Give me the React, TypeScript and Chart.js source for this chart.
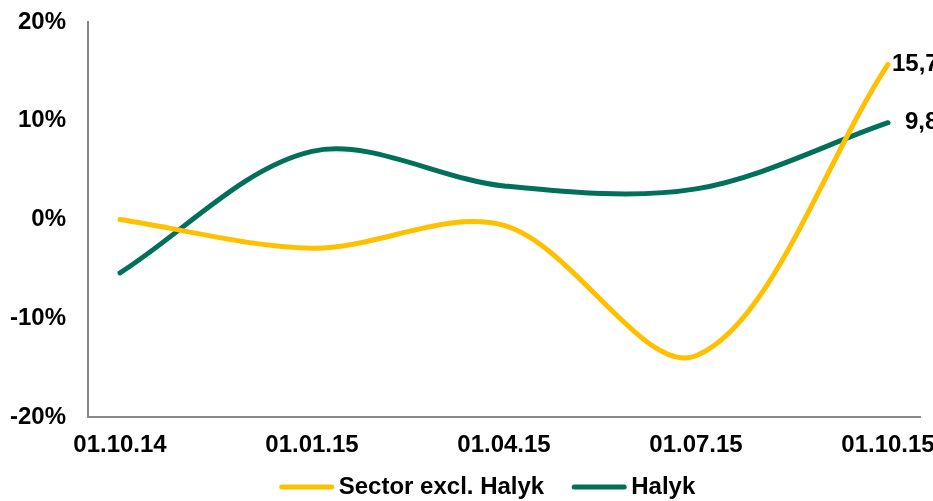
import React, { useEffect, useRef } from "react";
import { Chart, registerables } from "chart.js";

Chart.register(...registerables);

const tickLabels = ["01.10.14", "01.01.15", "01.04.15", "01.07.15", "01.10.15"];
const monthIndex = [0, 3, 6, 9, 12];
const sectorValues = [0.0, -2.9, -0.6, -13.8, 15.7];
const halykValues = [-5.4, 6.9, 3.4, 3.1, 9.8];

const FONT = "'Liberation Sans', Arial, sans-serif";
const FS = 24;

const endLabels = {
  id: "endLabels",
  afterDatasetsDraw(chart: any, _args: any, opts: any) {
    const ctx = chart.ctx;
    ctx.save();
    ctx.font = `bold ${FS}px ${FONT}`;
    ctx.fillStyle = "#000";
    ctx.textAlign = "left";
    ctx.textBaseline = "middle";
    chart.data.datasets.forEach((ds: any, i: number) => {
      const meta = chart.getDatasetMeta(i);
      const last = meta.data[meta.data.length - 1];
      const v = ds.data[ds.data.length - 1].y;
      const txt = v.toFixed(1).replace(".", ",");
      ctx.fillText(txt, last.x + opts.offsets[i], last.y);
    });
    ctx.restore();
  },
};

const customLegend = {
  id: "customLegend",
  afterDraw(chart: any, _args: any, opts: any) {
    const ctx = chart.ctx;
    ctx.save();
    ctx.font = `bold ${FS}px ${FONT}`;
    ctx.textBaseline = "middle";
    ctx.textAlign = "left";
    const items = chart.data.datasets.map((ds: any) => ({
      label: ds.label,
      color: ds.borderColor,
      w: ctx.measureText(ds.label).width,
    }));
    const total =
      items.reduce((s: number, it: any) => s + opts.lineW + opts.gap + it.w, 0) +
      opts.spacing * (items.length - 1);
    let x = chart.width / 2 + opts.shift - total / 2;
    const y = chart.height - opts.bottom;
    items.forEach((it: any) => {
      ctx.strokeStyle = it.color;
      ctx.lineWidth = 5;
      ctx.lineCap = "round";
      ctx.beginPath();
      ctx.moveTo(x + 2, y);
      ctx.lineTo(x + opts.lineW - 2, y);
      ctx.stroke();
      x += opts.lineW + opts.gap;
      ctx.fillStyle = "#000";
      ctx.fillText(it.label, x, y);
      x += it.w + opts.spacing;
    });
    ctx.restore();
  },
};

export default function App() {
  const ref = useRef<HTMLCanvasElement | null>(null);
  useEffect(() => {
    if (!ref.current) return;
    const chart = new Chart(ref.current, {
      type: "line",
      data: {
        datasets: [
          {
            label: "Sector excl. Halyk",
            data: monthIndex.map((x, i) => ({ x, y: sectorValues[i] })),
            borderColor: "#FFC000",
            backgroundColor: "#FFC000",
            borderWidth: 5,
            borderCapStyle: "round",
            pointRadius: 0,
            tension: 0.33,
          },
          {
            label: "Halyk",
            data: monthIndex.map((x, i) => ({ x, y: halykValues[i] })),
            borderColor: "#00705A",
            backgroundColor: "#00705A",
            borderWidth: 5,
            borderCapStyle: "round",
            pointRadius: 0,
            tension: 0.33,
          },
        ],
      },
      options: {
        animation: false,
        responsive: false,
        layout: { padding: { left: 0, right: 13, top: 14, bottom: 42 } },
        plugins: {
          legend: { display: false },
          tooltip: { enabled: false },
          endLabels: { offsets: [4, 17] },
          customLegend: { lineW: 54, gap: 5, spacing: 28, shift: 17, bottom: 14 },
        } as any,
        scales: {
          x: {
            type: "linear",
            min: -0.5,
            max: 12.5,
            afterBuildTicks: (s: any) => {
              s.ticks = monthIndex.map((v) => ({ value: v }));
            },
            afterFit: (s: any) => {
              s.height = 42;
              s.paddingLeft = 0;
              s.paddingRight = 0;
            },
            grid: { display: false, drawTicks: false },
            border: { display: true, color: "#8a8a8a", width: 2 },
            ticks: {
              padding: 14,
              color: "#000",
              maxRotation: 0,
              autoSkip: false,
              font: { family: FONT, size: FS, weight: "bold" },
              callback: (v: any) => tickLabels[monthIndex.indexOf(Number(v))] ?? "",
            },
          },
          y: {
            min: -20,
            max: 20,
            afterFit: (s: any) => {
              s.width = 80;
              s.paddingTop = 0;
              s.paddingBottom = 0;
            },
            grid: { display: false, drawTicks: false },
            border: { display: true, color: "#8a8a8a", width: 2 },
            ticks: {
              stepSize: 10,
              padding: 22,
              color: "#000",
              font: { family: FONT, size: FS, weight: "bold" },
              callback: (v: any) => `${v}%`,
            },
          },
        },
      },
      plugins: [endLabels, customLegend],
    });
    return () => chart.destroy();
  }, []);
  return (
    <div style={{ position: "fixed", left: 8, top: 8, width: 925, height: 493 }}>
      <canvas
        ref={ref}
        width={925}
        height={493}
        style={{ display: "block", width: 925, height: 493 }}
      />
    </div>
  );
}
